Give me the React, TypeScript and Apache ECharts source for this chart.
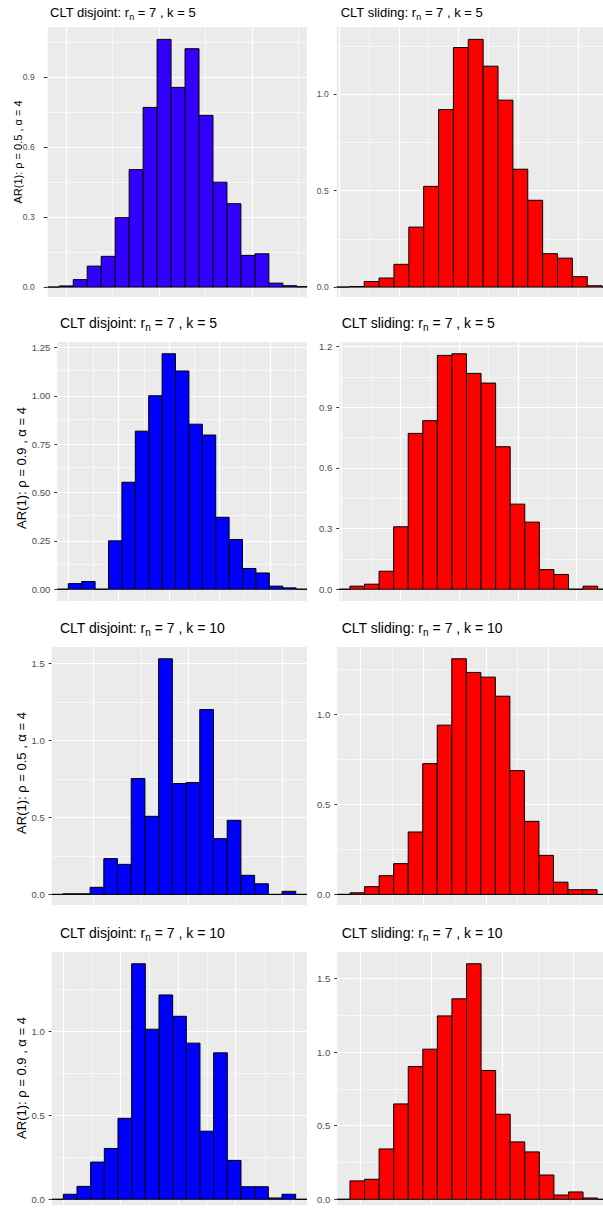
import React, { useEffect, useRef } from "react";
import * as echarts from "echarts";

// Histogram densities, one value per bin, read left to right
const disjointRho05K5 = [0, 0.005, 0.032, 0.09, 0.132, 0.298, 0.504, 0.771, 1.063, 0.857, 1.023, 0.737, 0.45, 0.358, 0.136, 0.143, 0.017, 0.006, 0.002];
const slidingRho05K5 = [0, 0.003, 0.029, 0.047, 0.118, 0.311, 0.522, 0.92, 1.242, 1.284, 1.145, 0.969, 0.611, 0.45, 0.173, 0.15, 0.054, 0.007, 0];
const disjointRho09K5 = [0, 0.029, 0.04, 0, 0.25, 0.553, 0.817, 1.0, 1.217, 1.128, 0.853, 0.797, 0.372, 0.257, 0.107, 0.084, 0.016, 0.007, 0];
const slidingRho09K5 = [0, 0.015, 0.025, 0.089, 0.309, 0.771, 0.834, 1.157, 1.165, 1.068, 1.02, 0.705, 0.421, 0.332, 0.097, 0.073, 0, 0.015, 0];
const disjointRho05K10 = [0, 0.004, 0.004, 0.046, 0.232, 0.195, 0.752, 0.507, 1.53, 0.72, 0.726, 1.2, 0.362, 0.481, 0.124, 0.069, 0, 0.02, 0];
const slidingRho05K10 = [0, 0.009, 0.043, 0.104, 0.171, 0.347, 0.727, 0.941, 1.31, 1.234, 1.208, 1.102, 0.688, 0.406, 0.217, 0.068, 0.026, 0.026, 0];
const disjointRho09K10 = [0, 0.03, 0.077, 0.222, 0.303, 0.483, 1.404, 1.014, 1.218, 1.091, 0.931, 0.406, 0.873, 0.232, 0.075, 0.075, 0.008, 0.03, 0];
const slidingRho09K10 = [0, 0.125, 0.136, 0.342, 0.648, 0.902, 1.02, 1.246, 1.362, 1.6, 0.875, 0.578, 0.39, 0.322, 0.165, 0.029, 0.05, 0.009, 0];

// Y tick labels per panel
const yTicksA = ["0.0", "0.3", "0.6", "0.9"];
const yTicksB = ["0.0", "0.5", "1.0"];
const yTicksC = ["0.00", "0.25", "0.50", "0.75", "1.00", "1.25"];
const yTicksD = ["0.0", "0.3", "0.6", "0.9", "1.2"];
const yTicksE = ["0.0", "0.5", "1.0", "1.5"];
const yTicksF = ["0.0", "0.5", "1.0"];
const yTicksG = ["0.0", "0.5", "1.0"];
const yTicksH = ["0.0", "0.5", "1.0", "1.5"];

// Minor y gridlines
const yMinorA = [0.15, 0.45, 0.75, 1.05];
const yMinorB = [0.25, 0.75, 1.25];
const yMinorC = [0.125, 0.375, 0.625, 0.875, 1.125];
const yMinorD = [0.15, 0.45, 0.75, 1.05];
const yMinorE = [0.25, 0.75, 1.25];
const yMinorF = [0.25, 0.75, 1.25];
const yMinorG = [0.25, 0.75, 1.25];
const yMinorH = [0.25, 0.75, 1.25];

// X gridlines (in bin units) and visible x ranges
const xMajorA = [1.48, 8.16, 14.8];
const xMinorA = [4.82, 11.48, 18.11];
const xMajorB = [0.33, 4.33, 8.35, 12.36, 16.38];
const xMinorB = [2.31, 6.34, 10.35, 14.37];
const xMajorC = [1.0, 4.76, 8.52, 12.28, 16.04];
const xMinorC = [2.88, 6.64, 10.4, 14.16, 17.92];
const xMajorD = [0.43, 4.46, 8.5, 12.53, 16.56];
const xMinorD = [2.45, 6.48, 10.52, 14.55];
const xMajorE = [3.24, 10.15, 17.05];
const xMinorE = [6.7, 13.6];
const xMajorF = [1.73, 6.04, 10.36, 14.65];
const xMinorF = [3.89, 8.2, 12.5, 16.8];
const xMajorG = [1.0, 5.19, 9.4, 13.6, 17.82];
const xMinorG = [3.08, 7.28, 11.5, 15.75];
const xMajorH = [1.69, 6.58, 11.47, 16.36];
const xMinorH = [4.14, 9.03, 13.92];

const xRangeA = [0.17, 18.73];
const xRangeB = [0.15, 18.06];
const xRangeC = [0.18, 18.81];
const xRangeD = [0.27, 18.37];
const xRangeE = [0.2, 18.82];
const xRangeF = [0.12, 18.41];
const xRangeG = [0.15, 18.83];
const xRangeH = [0.13, 18.37];

const rowYTitles = [
  "AR(1): \u03C1 = 0.5 , \u03B1 = 4",
  "AR(1): \u03C1 = 0.9 , \u03B1 = 4",
  "AR(1): \u03C1 = 0.5 , \u03B1 = 4",
  "AR(1): \u03C1 = 0.9 , \u03B1 = 4",
];
const rowK = ["5", "5", "10", "10"];

const FONT = "'Liberation Sans', Arial, Helvetica, sans-serif";

type Panel = {
  heights: number[];
  yTicks: string[];
  yMinor: number[];
  xMajor: number[];
  xMinor: number[];
  xRange: number[];
  fill: string;
  rect: { left: number; top: number; width: number; height: number };
  showXTicks: boolean;
  labelMargin: number;
  labelSize: number;
  tickLen: number;
  lowPad: number;
};

const panels: Panel[] = [
  { heights: disjointRho05K5, yTicks: yTicksA, yMinor: yMinorA, xMajor: xMajorA, xMinor: xMinorA, xRange: xRangeA, fill: "#3300FF",
    rect: { left: 47.7, top: 27, width: 259.3, height: 270 }, showXTicks: false, labelMargin: 9, labelSize: 8.5, tickLen: 4, lowPad: 0.04 },
  { heights: slidingRho05K5, yTicks: yTicksB, yMinor: yMinorB, xMajor: xMajorB, xMinor: xMinorB, xRange: xRangeB, fill: "#FF0000",
    rect: { left: 336.7, top: 27, width: 266.3, height: 270 }, showXTicks: true, labelMargin: 5, labelSize: 8.5, tickLen: 3, lowPad: 0.04 },
  { heights: disjointRho09K5, yTicks: yTicksC, yMinor: yMinorC, xMajor: xMajorC, xMinor: xMinorC, xRange: xRangeC, fill: "#0000FF",
    rect: { left: 57.3, top: 342, width: 249.7, height: 259 }, showXTicks: false, labelMargin: 4, labelSize: 9.5, tickLen: 3, lowPad: 0.05 },
  { heights: slidingRho09K5, yTicks: yTicksD, yMinor: yMinorD, xMajor: xMajorD, xMinor: xMinorD, xRange: xRangeD, fill: "#FF0000",
    rect: { left: 339.3, top: 342, width: 263.7, height: 259 }, showXTicks: true, labelMargin: 4, labelSize: 9.5, tickLen: 3, lowPad: 0.05 },
  { heights: disjointRho05K10, yTicks: yTicksE, yMinor: yMinorE, xMajor: xMajorE, xMinor: xMinorE, xRange: xRangeE, fill: "#0000FF",
    rect: { left: 51.7, top: 647, width: 255.3, height: 258 }, showXTicks: false, labelMargin: 4, labelSize: 9.5, tickLen: 3, lowPad: 0.045 },
  { heights: slidingRho05K10, yTicks: yTicksF, yMinor: yMinorF, xMajor: xMajorF, xMinor: xMinorF, xRange: xRangeF, fill: "#FF0000",
    rect: { left: 337.3, top: 647, width: 265.7, height: 258 }, showXTicks: true, labelMargin: 4, labelSize: 9.5, tickLen: 3, lowPad: 0.045 },
  { heights: disjointRho09K10, yTicks: yTicksG, yMinor: yMinorG, xMajor: xMajorG, xMinor: xMinorG, xRange: xRangeG, fill: "#0000FF",
    rect: { left: 51.7, top: 952, width: 255.3, height: 253.2 }, showXTicks: false, labelMargin: 4, labelSize: 9.5, tickLen: 3, lowPad: 0.025 },
  { heights: slidingRho09K10, yTicks: yTicksH, yMinor: yMinorH, xMajor: xMajorH, xMinor: xMinorH, xRange: xRangeH, fill: "#FF0000",
    rect: { left: 337.3, top: 952, width: 265.7, height: 253.2 }, showXTicks: true, labelMargin: 4, labelSize: 9.5, tickLen: 3, lowPad: 0.025 },
];

// title placement per row / column
const titleTops = [4, 314, 619, 924];
const titleLefts = [[50, 340.7], [60, 341.7], [60, 341.7], [60, 341.7]];
const titleSizes = [13, 14, 14, 14];
const yTitleCenters = [[18.3, 152], [21.7, 468], [21.7, 773], [21.7, 1078]];
const yTitleSizes = [11, 13, 13, 13];

function buildOption() {
  const grid: any[] = [];
  const xAxis: any[] = [];
  const yAxis: any[] = [];
  const series: any[] = [];
  const title: any[] = [];
  const graphic: any[] = [];

  panels.forEach((p, i) => {
    const maxH = Math.max(...p.heights);
    const yVals = p.yTicks.map(Number);
    grid.push({
      left: p.rect.left, top: p.rect.top, width: p.rect.width, height: p.rect.height,
      show: true, backgroundColor: "#EBEBEB", borderWidth: 0, containLabel: false,
    });
    const xTick: any = p.showXTicks
      ? { show: true, customValues: p.xMajor, length: 3, lineStyle: { color: "#333333", width: 1 } }
      : { show: false };
    xAxis.push({
      gridIndex: i, type: "value", min: p.xRange[0], max: p.xRange[1],
      axisLine: { show: false },
      axisLabel: { show: false },
      axisTick: xTick,
      splitLine: { show: false },
    });
    yAxis.push({
      gridIndex: i, type: "value", min: -p.lowPad * maxH, max: 1.05 * maxH,
      axisLine: { show: false },
      axisLabel: {
        show: true, customValues: yVals, margin: p.labelMargin + p.tickLen,
        color: "#4D4D4D", fontSize: p.labelSize, fontFamily: FONT,
        formatter: (v: number) => {
          const k = yVals.findIndex((t) => Math.abs(t - v) < 1e-9);
          return k >= 0 ? p.yTicks[k] : "";
        },
      },
      axisTick: { show: true, customValues: yVals, length: p.tickLen, lineStyle: { color: "#333333", width: 1 } },
      splitLine: { show: false },
    });
    const white = (w: number) => ({ color: "#FFFFFF", width: w, type: "solid", opacity: 1 });
    const mlData: any[] = [];
    p.yMinor.forEach((v) => { if (v < 1.05 * maxH) mlData.push({ yAxis: v, lineStyle: white(0.6) }); });
    p.xMinor.forEach((v) => mlData.push({ xAxis: v, lineStyle: white(0.6) }));
    yVals.forEach((v) => mlData.push({ yAxis: v, lineStyle: white(1.2) }));
    p.xMajor.forEach((v) => mlData.push({ xAxis: v, lineStyle: white(1.2) }));
    series.push({
      type: "line", xAxisIndex: i, yAxisIndex: i, data: [], z: 1, silent: true,
      markLine: { z: 1, silent: true, symbol: "none", label: { show: false }, emphasis: { disabled: true }, data: mlData },
    });
    series.push({
      type: "custom", xAxisIndex: i, yAxisIndex: i, z: 3, silent: true,
      data: p.heights.map((h, j) => [j, h]),
      renderItem: (params: any, api: any) => {
        const j = api.value(0);
        const h = api.value(1);
        const topLeft = api.coord([j, h]);
        const botRight = api.coord([j + 1, 0]);
        const cs = params.coordSys;
        const x0 = Math.max(topLeft[0], cs.x);
        const x1 = Math.min(botRight[0], cs.x + cs.width);
        if (x1 <= x0) return null;
        return {
          type: "rect",
          shape: { x: x0, y: topLeft[1], width: x1 - x0, height: Math.max(botRight[1] - topLeft[1], 0) },
          style: { fill: p.fill, stroke: "#000000", lineWidth: 1 },
        };
      },
    });
  });

  for (let r = 0; r < 4; r++) {
    ["CLT disjoint: r", "CLT sliding: r"].forEach((head, c) => {
      const fs = titleSizes[r];
      title.push({
        text: `{m|${head}}{s|n}{m| = 7 , k = ${rowK[r]}}`,
        left: titleLefts[r][c], top: titleTops[r], padding: 0,
        textStyle: {
          fontWeight: "normal",
          rich: {
            m: { fontSize: fs, fontWeight: "normal", color: "#000000", fontFamily: FONT, lineHeight: fs + 4, verticalAlign: "middle" },
            s: { fontSize: Math.round(fs * 0.72), fontWeight: "normal", color: "#000000", fontFamily: FONT, lineHeight: Math.round(fs * 0.72), verticalAlign: "bottom" },
          },
        },
      });
    });
    graphic.push({
      type: "text", x: yTitleCenters[r][0], y: yTitleCenters[r][1], rotation: Math.PI / 2,
      style: { text: rowYTitles[r], fontSize: yTitleSizes[r], fontFamily: FONT, fill: "#000000", align: "center", verticalAlign: "middle" },
    });
  }

  return { animation: false, backgroundColor: "#FFFFFF", grid, xAxis, yAxis, series, title, graphic };
}

export default function App() {
  const ref = useRef<HTMLDivElement>(null);
  useEffect(() => {
    if (!ref.current) return;
    const chart = echarts.init(ref.current, undefined, { renderer: "svg" });
    chart.setOption(buildOption() as any);
    return () => chart.dispose();
  }, []);
  return <div ref={ref} style={{ position: "absolute", left: 0, top: 0, width: 603, height: 1213 }} />;
}
